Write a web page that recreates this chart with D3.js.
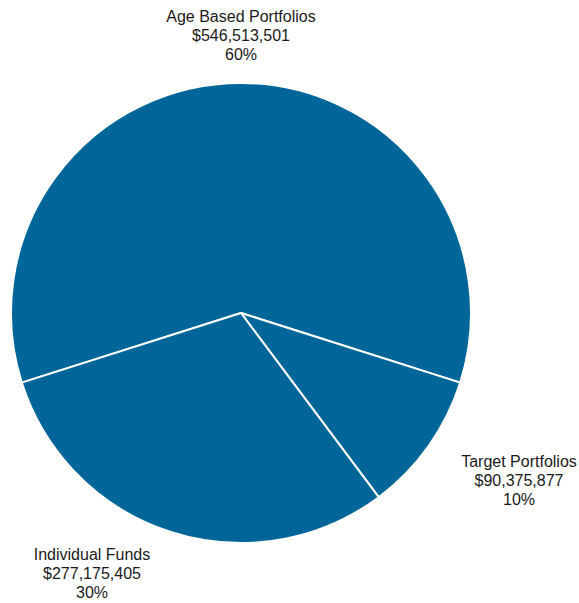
<!DOCTYPE html>
<html>
<head>
<meta charset="utf-8">
<script src="https://cdn.jsdelivr.net/npm/d3@7"></script>
<style>
html,body{margin:0;padding:0;background:#fff;}
svg{display:block;}
text{font-family:"Liberation Sans",Arial,sans-serif;font-size:16px;fill:#1a1a1a;}
</style>
</head>
<body>
<svg id="chart" width="579" height="603"></svg>
<script>
const categories = ["Age Based Portfolios", "Target Portfolios", "Individual Funds"];
const values = [546513501, 90375877, 277175405];
const percentLabels = ["60%", "10%", "30%"];

const W = 579, H = 603;
const cx = 241, cy = 313, R = 230;
const color = "#006699";

const svg = d3.select("#chart");
const data = categories.map((c, i) => ({name: c, value: values[i], pct: percentLabels[i]}));
const total = d3.sum(values);
const startA = -Math.PI * values[0] / total;

const pie = d3.pie().sort(null).value(d => d.value)
  .startAngle(startA).endAngle(startA + 2 * Math.PI);
const arcs = pie(data);
const arc = d3.arc().innerRadius(0).outerRadius(R);

const g = svg.append("g").attr("transform", `translate(${cx},${cy})`);
g.selectAll("path").data(arcs).join("path")
  .attr("d", arc)
  .attr("fill", color)
  .attr("stroke", "#fff")
  .attr("stroke-width", 2)
  .attr("stroke-linejoin", "round");

// label positions (anchored outside slices)
const labelPos = [[241, 22], [519, 467], [92, 560]];
const fmt = d3.format("$,");
arcs.forEach((a, i) => {
  const t = svg.append("text")
    .attr("text-anchor", "middle")
    .attr("x", labelPos[i][0]).attr("y", labelPos[i][1]);
  const lines = [a.data.name, fmt(a.data.value), a.data.pct];
  lines.forEach((l, j) => {
    t.append("tspan").attr("x", labelPos[i][0]).attr("dy", j === 0 ? 0 : 19).text(l);
  });
});
</script>
</body>
</html>
